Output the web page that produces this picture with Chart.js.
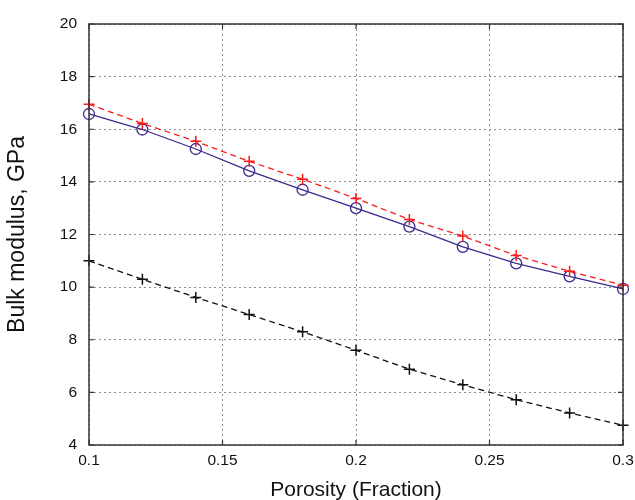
<!DOCTYPE html>
<html>
<head>
<meta charset="utf-8">
<script src="https://cdn.jsdelivr.net/npm/chart.js@4/dist/chart.umd.min.js"></script>
<style>
  html, body { margin: 0; padding: 0; background: #fff; }
  canvas { display: block; }
</style>
</head>
<body>
<canvas id="chart" width="635" height="500"></canvas>
<script>
// Пористость и модули упругости
const porosity = [0.1, 0.12, 0.14, 0.16, 0.18, 0.2, 0.22, 0.24, 0.26, 0.28, 0.3];
const modelCircles = [16.58, 15.99, 15.25, 14.42, 13.7, 13.0, 12.3, 11.53, 10.9, 10.41, 9.93];
const modelRed = [16.95, 16.22, 15.54, 14.78, 14.1, 13.37, 12.57, 11.94, 11.2, 10.6, 10.07];
const modelBlack = [11.0, 10.3, 9.61, 8.96, 8.3, 7.6, 6.88, 6.29, 5.72, 5.22, 4.75];

const xTicks = [0.1, 0.15, 0.2, 0.25, 0.3];
const yTicks = [4, 6, 8, 10, 12, 14, 16, 18, 20];

function toPoints(values) {
  return porosity.map((x, i) => ({ x: x, y: values[i] }));
}

// Рамка вокруг области графика + короткие засечки внутрь
const frame = {
  id: 'frame',
  afterDraw(chart) {
    const a = chart.chartArea;
    const ctx = chart.ctx;
    const sx = chart.scales.x;
    const sy = chart.scales.y;
    const len = 5;
    ctx.save();
    ctx.strokeStyle = '#333';
    ctx.setLineDash([]);
    ctx.lineWidth = 1.2;
    ctx.beginPath();
    xTicks.forEach(v => {
      const px = sx.getPixelForValue(v);
      ctx.moveTo(px, a.bottom); ctx.lineTo(px, a.bottom - len);
      ctx.moveTo(px, a.top); ctx.lineTo(px, a.top + len);
    });
    yTicks.forEach(v => {
      const py = sy.getPixelForValue(v);
      ctx.moveTo(a.left, py); ctx.lineTo(a.left + len, py);
      ctx.moveTo(a.right, py); ctx.lineTo(a.right - len, py);
    });
    ctx.stroke();
    ctx.lineWidth = 1.5;
    ctx.strokeRect(a.left, a.top, a.right - a.left, a.bottom - a.top);
    ctx.restore();
  }
};

const gridOpts = { color: '#8e8e8e', lineWidth: 1, drawTicks: false };
const family = 'Liberation Sans, Arial, sans-serif';

new Chart(document.getElementById('chart'), {
  type: 'line',
  data: {
    datasets: [
      {
        data: toPoints(modelRed),
        borderColor: '#ff1a1a',
        borderWidth: 1.3,
        borderDash: [6, 4],
        pointStyle: 'cross',
        pointRadius: 5.5,
        pointBorderColor: '#ff1a1a',
        pointBorderWidth: 1.5,
        fill: false,
        tension: 0,
        clip: false
      },
      {
        data: toPoints(modelCircles),
        borderColor: '#3a2a8c',
        borderWidth: 1.3,
        pointStyle: 'circle',
        pointRadius: 5.5,
        pointBorderColor: '#3a2a8c',
        pointBackgroundColor: 'rgba(0,0,0,0)',
        pointBorderWidth: 1.3,
        fill: false,
        tension: 0,
        clip: false
      },
      {
        data: toPoints(modelBlack),
        borderColor: '#111',
        borderWidth: 1.3,
        borderDash: [6, 4],
        pointStyle: 'cross',
        pointRadius: 5.5,
        pointBorderColor: '#111',
        pointBorderWidth: 1.5,
        fill: false,
        tension: 0,
        clip: false
      }
    ]
  },
  options: {
    responsive: false,
    animation: false,
    layout: { padding: { left: 4, right: 12, top: 24, bottom: 0 } },
    plugins: {
      legend: { display: false },
      tooltip: { enabled: false }
    },
    scales: {
      x: {
        type: 'linear',
        min: 0.1,
        max: 0.3,
        afterBuildTicks: axis => { axis.ticks = xTicks.map(v => ({ value: v })); },
        // фиксированная высота оси и отступ справа
        afterFit: axis => { axis.height = 55; axis.paddingRight = 0; },
        grid: gridOpts,
        border: { display: false, dash: [2, 3] },
        ticks: {
          color: '#111',
          font: { family: family, size: 15.5 },
          padding: 6,
          maxRotation: 0,
          callback: v => String(Math.round(v * 100) / 100)
        },
        title: {
          display: true,
          text: 'Porosity (Fraction)',
          color: '#111',
          font: { family: family, size: 21 },
          padding: { top: 0, bottom: -3 }
        }
      },
      y: {
        type: 'linear',
        min: 4,
        max: 20,
        afterBuildTicks: axis => { axis.ticks = yTicks.map(v => ({ value: v })); },
        afterFit: axis => { axis.width = 85; },
        grid: gridOpts,
        border: { display: false, dash: [2, 3] },
        ticks: {
          color: '#111',
          font: { family: family, size: 15.5 },
          padding: 12
        },
        title: {
          display: true,
          text: 'Bulk modulus, GPa',
          color: '#111',
          font: { family: family, size: 23 },
          padding: { top: 0, bottom: 0 }
        }
      }
    }
  },
  plugins: [frame]
});
</script>
</body>
</html>
